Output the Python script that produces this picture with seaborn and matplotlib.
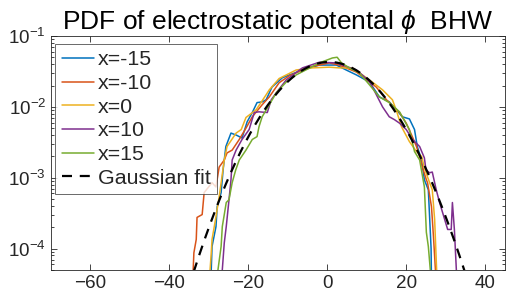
import numpy as np
import matplotlib
matplotlib.use("Agg")
import matplotlib.pyplot as plt
import seaborn as sns

# PDF curves (x position, log10 of pdf)
x_m15 = [-30.0, -29.4, -29.2, -28.2, -27.9, -26.9, -26.4, -25.7, -24.4, -23.0, -21.6, -20.3, -19.0,
         -17.8, -16.5, -15.5, -14.0, -11.4, -9.6, -6.3, -2.0, 2.3, 4.8, 7.4, 10.7, 13.2, 15.7, 17.5,
         19.0, 20.8, 22.1, 22.8, 23.9, 24.6, 25.6, 26.3, 26.5]
lp_m15 = [-5.0, -4.3, -3.97, -3.69, -3.41, -3.21, -2.89, -2.56, -2.37, -2.40, -2.44, -2.21, -2.08,
          -1.94, -1.93, -1.90, -1.72, -1.59, -1.55, -1.48, -1.41, -1.41, -1.48, -1.55, -1.65, -1.86,
          -1.93, -2.04, -2.14, -2.17, -2.32, -2.56, -2.75, -3.03, -3.17, -4.0, -5.0]

x_m10 = [-34.5, -33.8, -33.2, -33.0, -31.7, -31.2, -29.2, -28.2, -27.4, -26.1, -25.4, -24.1, -22.3,
         -20.6, -19.0, -16.5, -14.7, -12.2, -9.6, -4.6, 0.5, 3.0, 7.4, 12.4, 15.0, 18.3, 20.0, 21.3,
         22.6, 23.4, 24.1, 25.1, 25.4, 26.4, 26.9, 27.4, 27.7]
lp_m10 = [-5.0, -4.06, -3.87, -3.56, -3.52, -3.21, -3.07, -3.13, -2.85, -2.75, -2.65, -2.61, -2.46,
          -2.30, -2.14, -1.97, -1.86, -1.66, -1.56, -1.44, -1.38, -1.41, -1.51, -1.72, -1.90, -2.08,
          -2.23, -2.39, -2.56, -2.70, -2.85, -3.03, -3.07, -3.41, -3.83, -4.30, -5.0]

x_0 = [-30.3, -29.7, -29.4, -29.2, -28.2, -27.4, -26.1, -25.4, -23.1, -21.8, -20.6, -18.0, -15.5,
       -14.7, -12.2, -7.9, -3.8, 0.5, 3.0, 6.3, 8.9, 11.4, 14.0, 16.5, 17.5, 18.8, 20.8, 22.6, 23.9,
       24.6, 25.4, 26.6, 27.2, 27.7, 28.2]
lp_0 = [-5.0, -4.3, -4.06, -3.87, -3.55, -3.27, -2.75, -2.56, -2.37, -2.32, -2.15, -2.04, -1.83,
        -1.76, -1.60, -1.48, -1.45, -1.44, -1.45, -1.45, -1.55, -1.65, -1.76, -1.90, -2.05, -2.28,
        -2.49, -2.63, -2.70, -2.86, -2.99, -3.17, -3.59, -4.3, -5.0]

x_p10 = [-27.2, -26.6, -26.1, -25.6, -24.9, -24.4, -24.1, -23.1, -21.6, -19.8, -18.5, -17.3, -15.2,
         -14.2, -12.9, -10.4, -6.3, -2.0, 2.3, 7.4, 10.7, 14.0, 15.7, 17.0, 18.3, 20.0, 21.6, 23.4,
         24.6, 25.0, 25.9, 26.6, 27.6, 28.4, 30.5, 31.4, 31.7, 32.2, 32.7, 33.2]
lp_p10 = [-5.0, -4.3, -3.92, -3.69, -3.31, -3.03, -2.75, -2.61, -2.46, -2.32, -2.08, -2.07, -2.08,
          -1.90, -1.80, -1.62, -1.45, -1.37, -1.38, -1.48, -1.64, -2.0, -2.14, -2.18, -2.23, -2.32,
          -2.46, -2.56, -2.72, -2.89, -2.93, -2.92, -3.17, -3.34, -3.73, -3.73, -3.35, -3.73, -4.3,
          -5.0]

x_p15 = [-28.2, -27.7, -26.9, -26.6, -25.6, -24.9, -24.1, -23.2, -22.3, -20.6, -19.0, -17.8, -17.3,
         -16.5, -14.7, -12.9, -10.4, -7.9, -2.0, 1.3, 2.5, 3.6, 5.6, 8.1, 10.7, 13.2, 15.7, 18.3,
         20.8, 22.1, 23.4, 24.1, 24.6, 25.1, 25.6, 26.1, 26.5]
lp_p15 = [-5.0, -4.3, -3.97, -3.69, -3.35, -3.31, -3.07, -2.89, -2.75, -2.61, -2.46, -2.42, -2.28,
          -2.14, -1.97, -1.80, -1.65, -1.55, -1.38, -1.31, -1.30, -1.38, -1.45, -1.52, -1.69, -1.86,
          -1.94, -2.07, -2.32, -2.63, -2.75, -2.97, -3.13, -3.77, -3.97, -4.3, -5.0]

series_labels = ["x=-15", "x=-10", "x=0", "x=10", "x=15"]
series_colors = ["#0072BD", "#D95319", "#EDB120", "#7E2F8E", "#77AC30"]

# Gaussian fit parameters
fit_mu = 0.5
fit_sigma = 9.3
fit_peak = 0.043

sns.set_style("ticks")
plt.rcParams["font.family"] = ["Liberation Sans", "DejaVu Sans"]
plt.rcParams["mathtext.fontset"] = "custom"
plt.rcParams["mathtext.rm"] = "Liberation Sans"
plt.rcParams["mathtext.it"] = "Liberation Sans:italic"

fig = plt.figure(figsize=(5.1, 3.05), dpi=100)
ax = fig.add_axes([0.1, 0.115, 0.89, 0.767])

xs = [x_m15, x_m10, x_0, x_p10, x_p15]
lps = [lp_m15, lp_m10, lp_0, lp_p10, lp_p15]
for xv, lv, lab, col in zip(xs, lps, series_labels, series_colors):
    sns.lineplot(x=xv, y=10 ** np.array(lv), ax=ax, color=col, linewidth=1.1,
                 label=lab, sort=False, estimator=None)

xg = np.linspace(-40, 40, 400)
yg = fit_peak * np.exp(-(xg - fit_mu) ** 2 / (2 * fit_sigma ** 2))
sns.lineplot(x=xg, y=yg, ax=ax, color="black", linewidth=1.6, linestyle=(0, (4.5, 3.5)),
             label="Gaussian fit", sort=False, estimator=None)

ax.set_yscale("log")
ax.set_xlim(-70, 45)
ax.set_ylim(5e-5, 1e-1)
ax.set_xticks([-60, -40, -20, 0, 20, 40])
ax.tick_params(axis="both", which="both", direction="in", top=True, right=True,
               labelsize=13.6, colors="#262626")
ax.tick_params(which="major", length=4, width=0.6)
ax.tick_params(which="minor", length=2, width=0.6)
for s in ax.spines.values():
    s.set_color("#262626")
    s.set_linewidth(0.6)

ax.set_title("PDF of electrostatic potental $\\phi$  BHW", fontsize=19, color="black", pad=5)

leg = ax.legend(loc="upper left", bbox_to_anchor=(0.009, 0.966), fontsize=15.4,
                frameon=True, fancybox=False, handlelength=1.5, handletextpad=0.2,
                labelspacing=0.22, borderpad=0.3, borderaxespad=0.0)
leg.get_frame().set_edgecolor("#262626")
leg.get_frame().set_linewidth(0.6)

fig.savefig("out.png", dpi=100)
